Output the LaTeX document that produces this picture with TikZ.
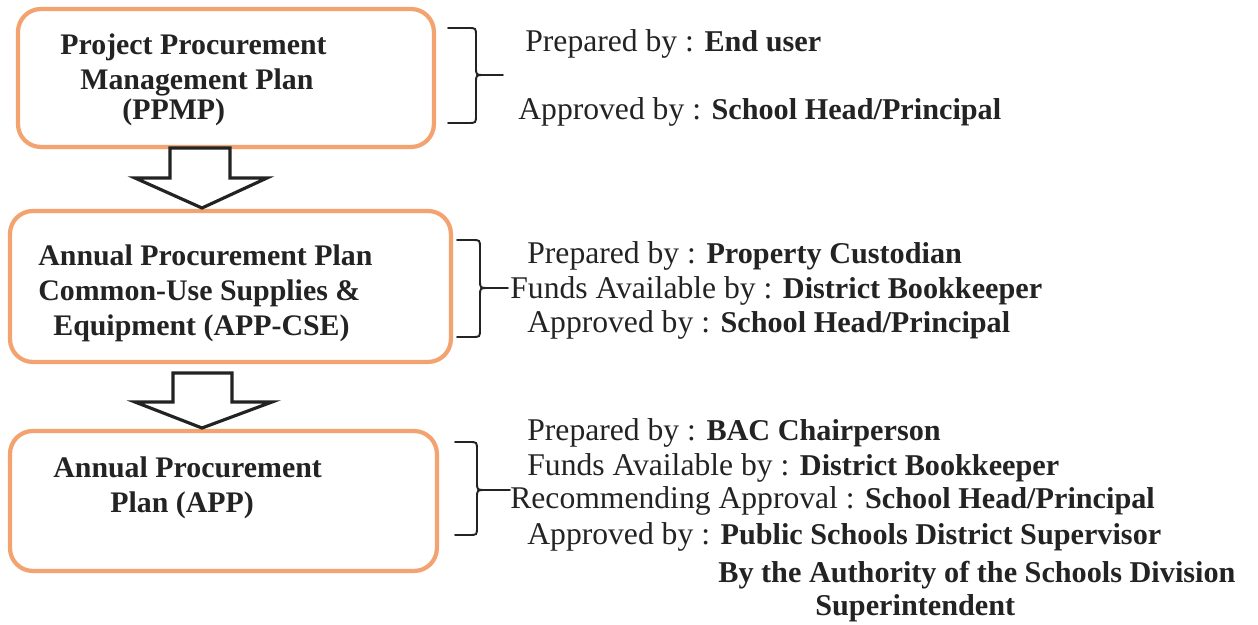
\documentclass[tikz,border=0pt]{standalone}
\usepackage{fontspec}
\setmainfont{Liberation Serif}
\usetikzlibrary{calc}
\definecolor{planorange}{RGB}{243,163,112}
\definecolor{ink}{RGB}{35,35,35}
\newcommand{\who}[1]{{\fontsize{17.2}{22}\selectfont\bfseries #1}}
\tikzset{
  planbox/.style={draw=planorange, line width=2.4pt, rounded corners=13pt,
    fill=white, inner sep=0pt, outer sep=0pt, anchor=north west},
  blockarrow/.style={draw=ink, line width=1.8pt, fill=white, line join=miter},
  bracket/.style={draw=ink, line width=1.1pt, line cap=round},
  boxtxt/.style={anchor=base west, inner sep=0pt, text=ink,
    font=\fontsize{17}{20}\selectfont\bfseries},
  lbl/.style={anchor=base west, inner sep=0pt, text=ink,
    font=\fontsize{18}{22}\selectfont},
}
% right-hand curly bracket: left end x, spine x, tip x, top y, tip y, bottom y
\newcommand{\DrawBrace}[6]{%
  \draw[bracket] (#1,#4) -- ({#2-8},#4)
    .. controls (#2,#4) .. ({#2},{#4+8}) -- ({#2},{#5-8})
    .. controls (#2,#5) .. ({#2+8},#5) -- (#3,#5);
  \draw[bracket] ({#2+8},#5) .. controls (#2,#5) .. ({#2},{#5+8})
    -- ({#2},{#6-8}) .. controls (#2,#6) .. ({#2-8},#6) -- (#1,#6);
}
\begin{document}
\begin{tikzpicture}[x=0.02cm, y=-0.02cm]
\useasboundingbox (0,0) rectangle (1258,625);

% the three planning documents
\node[planbox, minimum width=8.32cm, minimum height=2.76cm] (b1) at (18,9) {};
\node[planbox, minimum width=8.82cm, minimum height=3.02cm] (b2) at (10,211) {};
\node[planbox, minimum width=8.54cm, minimum height=2.80cm] (b3) at (10,431) {};

% hollow block arrows between the documents
\draw[blockarrow] (170,148) -- (170,178) -- (135,178) -- (202,208)
  -- (267,178) -- (230,178) -- (230,148) -- cycle;
\draw[blockarrow] (173,373) -- (173,402) -- (135,402) -- (202,428)
  -- (272,402) -- (232,402) -- (232,373) -- cycle;

% box titles
\node[boxtxt] (t11) at (60,55)  {Project Procurement};
\node[boxtxt] (t12) at (80,90)  {Management Plan};
\node[boxtxt] (t13) at (122,120) {(PPMP)};

\node[boxtxt] (t21) at (38,265) {Annual Procurement Plan};
\node[boxtxt] (t22) at (38,300) {Common-Use Supplies \&};
\node[boxtxt] (t23) at (53,335) {Equipment (APP-CSE)};

\node[boxtxt] (t31) at (53,477)  {Annual Procurement};
\node[boxtxt] (t32) at (110,512) {Plan (APP)};

% brackets
\DrawBrace{448}{476}{503}{28}{75}{123}
\DrawBrace{457}{480}{508}{240}{288}{337}
\DrawBrace{455}{477}{510}{442}{490}{535}

% responsibilities
\node[lbl] (r11) at (525,52)  {Prepared by : \who{End user}};
\node[lbl] (r12) at (518,120) {Approved by : \who{School Head/Principal}};

\node[lbl] (r21) at (527,263) {Prepared by : \who{Property Custodian}};
\node[lbl] (r22) at (510,298) {Funds Available by : \who{District Bookkeeper}};
\node[lbl] (r23) at (527,332) {Approved by : \who{School Head/Principal}};

\node[lbl] (r31) at (527,440) {Prepared by : \who{BAC Chairperson}};
\node[lbl] (r32) at (527,475) {Funds Available by : \who{District Bookkeeper}};
\node[lbl] (r33) at (510,508) {Recommending Approval : \who{School Head/Principal}};
\node[lbl] (r34) at (527,544) {Approved by : \who{Public Schools District Supervisor}};
\node[lbl] (r35) at (718,582) {\who{By the Authority of the Schools Division}};
\node[lbl] (r36) at (815,615) {\who{Superintendent}};
\end{tikzpicture}
\end{document}
